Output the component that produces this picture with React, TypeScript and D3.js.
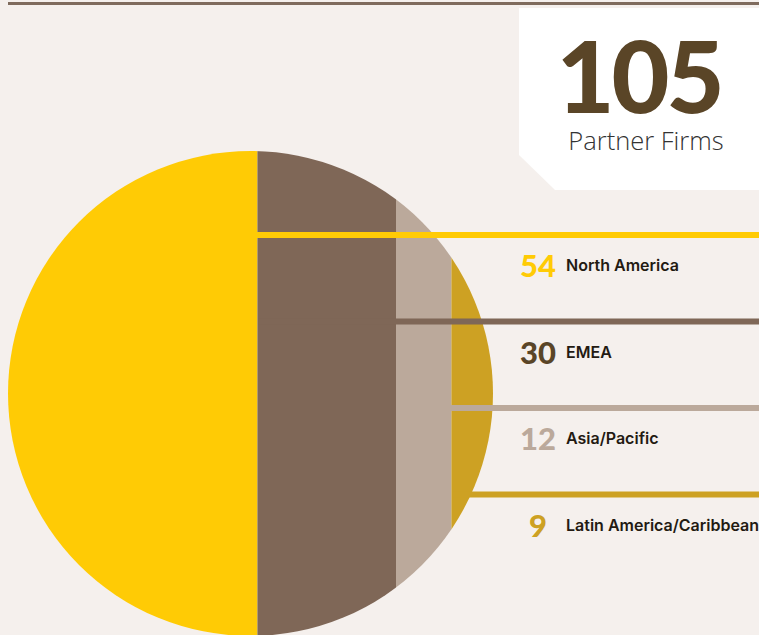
import React from "react";
import * as d3 from "d3";

const regions = ["North America", "EMEA", "Asia/Pacific", "Latin America/Caribbean"];
const counts = [54, 30, 12, 9];
const colors = ["#ffcb05", "#7f6757", "#bba99b", "#cda123"];
const numberColors = ["#ffcb05", "#5a4527", "#bba99b", "#cda123"];
const totalLabel = "105";
const totalCaption = "Partner Firms";

const W = 759;
const H = 635;

export default function App() {
  const total = d3.sum(counts);
  const cx = 250.5, cy = 393.5, r = 242.5;
  const x = d3.scaleLinear().domain([0, total]).range([cx - r, cx + r]);
  const cum = d3.cumsum(counts);
  const starts = counts.map((c, i) => cum[i] - c);
  const y = d3.scaleBand<string>().domain(regions).range([232, 578]).paddingInner(0).paddingOuter(0);
  const edgeLeft = (yy: number) => cx - Math.sqrt(Math.max(0, r * r - (yy - cy) * (yy - cy)));

  return (
    <svg width={W} height={H} style={{ position: "absolute", left: 0, top: 0, background: "#f5f0ed" }}>
      <rect x={0} y={0} width={W} height={H} fill="#f5f0ed" />
      <line x1={8} x2={W} y1={3.5} y2={3.5} stroke="#7f6b5d" strokeWidth={3} />
      <defs>
        <clipPath id="circ">
          <circle cx={cx} cy={cy} r={r} />
        </clipPath>
      </defs>
      <g clipPath="url(#circ)">
        {counts.map((c, i) => (
          <rect key={i} x={x(starts[i])} y={cy - r - 1} width={x(cum[i]) - x(starts[i])} height={2 * r + 2} fill={colors[i]} />
        ))}
      </g>
      {regions.map((reg, i) => {
        const ly = (y(reg) as number) + 3;
        const x1 = Math.max(x(starts[i]) + 1, edgeLeft(ly) + 4);
        return (
          <g key={reg}>
            <line x1={x1} x2={W} y1={ly} y2={ly} stroke={colors[i]} strokeWidth={6} />
            <text x={538} y={ly + 42} textAnchor="middle" fontFamily="Lato, 'Open Sans', sans-serif" fontWeight={900} fontSize={31} fill={numberColors[i]}>
              {counts[i]}
            </text>
            <text x={566} y={ly + 36} fontFamily="Inter, Roboto, sans-serif" fontWeight={600} fontSize={16} fill="#231a12">
              {reg}
            </text>
          </g>
        );
      })}
      <polygon points="519,8 759,8 759,190 555,190 519,155" fill="#ffffff" />
      <text x={639} y={113} textAnchor="middle" fontFamily="Lato, 'Open Sans', sans-serif" fontWeight={900} fontSize={100} fill="#5a4527" letterSpacing={-3}>
        {totalLabel}
      </text>
      <text x={646} y={150} textAnchor="middle" fontFamily="'Open Sans', Lato, sans-serif" fontWeight={300} fontSize={25.5} fill="#333333">
        {totalCaption}
      </text>
    </svg>
  );
}
